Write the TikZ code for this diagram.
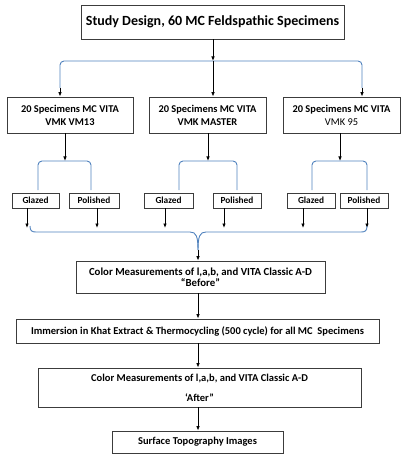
\documentclass[tikz,border=0pt]{standalone}
\usepackage{fontspec}
\setmainfont{Carlito}
\usetikzlibrary{arrows.meta}
\definecolor{brc}{RGB}{79,129,189}
\definecolor{bxc}{RGB}{60,60,60}
\begin{document}
\begin{tikzpicture}[x=1pt,y=-1pt,
  box/.style={draw=bxc,line width=0.9pt,inner sep=0pt,align=center,font=\bfseries\fontsize{10.5}{11.5}\selectfont},
  midbox/.style={box,minimum height=36pt,font=\bfseries\fontsize{10.4}{13}\selectfont},
  smallbox/.style={box,minimum height=15pt,font=\bfseries\fontsize{9.3}{10}\selectfont},
  arr/.style={black,line width=0.8pt,-{Latex[length=4.5pt,width=3.6pt]}},
  br/.style={draw=brc,line width=0.9pt,rounded corners=4pt},
  brline/.style={draw=brc,line width=0.9pt}]
\useasboundingbox (0,0) rectangle (410,462);
\node[box,minimum width=263pt,minimum height=34pt,font=\bfseries\fontsize{14}{16}\selectfont] (t) at (212.5,22) {Study Design, 60 MC Feldspathic Specimens};
\node[midbox,minimum width=126pt] (m1) at (70,115) {20 Specimens MC VITA\\VMK VM13};
\node[midbox,minimum width=117pt] (m2) at (207.5,115) {20 Specimens MC VITA\\VMK MASTER};
\node[midbox,minimum width=117pt] (m3) at (341.5,115) {20 Specimens MC VITA\\\mdseries VMK 95};
\node[smallbox,minimum width=47pt] (g1) at (35.5,200.5) {Glazed};
\node[smallbox,minimum width=50pt] (p1) at (94,200.5) {Polished};
\node[smallbox,minimum width=49pt] (g2) at (168.5,200.5) {Glazed};
\node[smallbox,minimum width=48pt] (p2) at (237,200.5) {Polished};
\node[smallbox,minimum width=48pt] (g3) at (311,200.5) {Glazed};
\node[smallbox,minimum width=48pt] (p3) at (364,200.5) {Polished};
\node[box,minimum width=249pt,minimum height=32pt,font=\bfseries\fontsize{10.8}{11.5}\selectfont] (bf) at (200.5,277) {Color Measurements of l,a,b, and VITA Classic A-D\\“Before”};
\node[box,minimum width=363pt,minimum height=24pt] (im) at (197.5,331) {Immersion in Khat Extract \& Thermocycling (500 cycle) for all MC\ \ Specimens};
\node[box,minimum width=323pt,minimum height=39pt,font=\bfseries\fontsize{10.5}{20}\selectfont] (af) at (199.5,387.5) {Color Measurements of l,a,b, and VITA Classic A-D\\‘After”};
\node[box,minimum width=171pt,minimum height=22pt] (sf) at (197.5,442) {Surface Topography Images};
% top brace
\coordinate (tb) at (213,61);
\coordinate (tl) at (60,88);
\coordinate (tr) at (362,88);
\draw[br] (tl) -- (60,61) -- (362,61) -- (tr);
\draw[arr] (t.south -| tb) -- (tb);
\draw[arr] (tb) -- (tb |- m2.north);
\draw[arr] (tl) -- (tl |- m1.north);
\draw[arr] (tr) -- (tr |- m3.north);
% mid braces
\coordinate (b1) at (65,161);
\coordinate (b2) at (208,161);
\coordinate (b3) at (340,161);
\draw[arr] (m1.south -| b1) -- (b1);
\draw[arr] (m2.south -| b2) -- (b2);
\draw[arr] (m3.south -| b3) -- (b3);
\draw[br] (38,190) -- (38,161) -- (91,161) -- (91,190);
\draw[br] (179,190) -- (179,161) -- (237,161) -- (237,190);
\draw[br] (312,190) -- (312,161) -- (367,161) -- (367,190);
% bottom arrows
\foreach \n/\x in {g1/27,p1/97,g2/165,p2/224,g3/303,p3/367}{
  \coordinate (e\n) at (\x,228);
  \draw[arr] (\n.south -| e\n) -- (e\n);
}
\coordinate (bc) at (198,250);
\draw[brline] (30,226) .. controls (30,231) and (32,232) .. (36,232) -- (190,232) .. controls (196,232) and (198,236) .. (198,250);
\draw[brline] (367,226) .. controls (367,231) and (365,232) .. (361,232) -- (206,232) .. controls (200,232) and (198,236) .. (198,250);
\draw[arr] (bc) -- (bc |- bf.north);
\draw[arr] (bf.south -| bc) -- (bc |- im.north);
\draw[arr] (im.south -| bc) -- (bc |- af.north);
\draw[arr] (af.south -| bc) -- (bc |- sf.north);
\end{tikzpicture}
\end{document}
